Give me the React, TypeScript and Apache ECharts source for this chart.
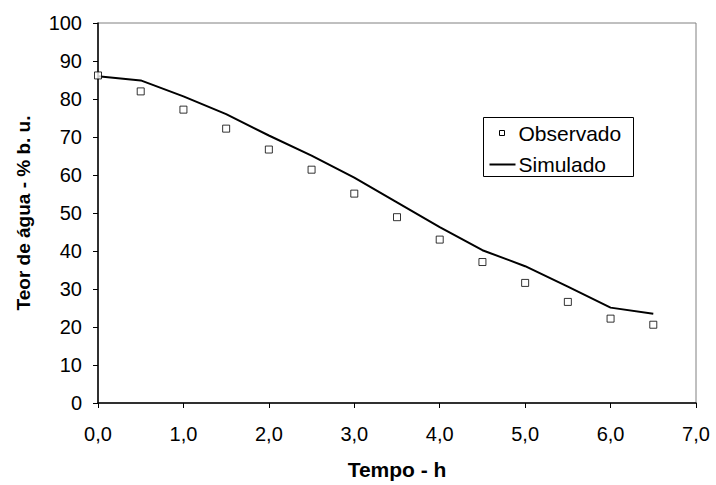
import React, { useEffect, useRef } from "react";
import * as echarts from "echarts";

const tempo = [0, 0.5, 1.0, 1.5, 2.0, 2.5, 3.0, 3.5, 4.0, 4.5, 5.0, 5.5, 6.0, 6.5];
const observado = [86.2, 82.0, 77.2, 72.2, 66.7, 61.4, 55.1, 48.9, 43.0, 37.1, 31.6, 26.6, 22.2, 20.6];
const simulado = [86.0, 84.9, 80.7, 76.0, 70.4, 65.1, 59.3, 52.8, 46.3, 40.2, 36.0, 30.6, 25.1, 23.5];
const legendLabels = ["Observado", "Simulado"];

const FONT = "'Liberation Sans', Arial, sans-serif";

export default function App() {
  const ref = useRef<HTMLDivElement>(null);
  useEffect(() => {
    if (!ref.current) return;
    const chart = echarts.init(ref.current, undefined, { renderer: "svg" });
    chart.setOption({
      animation: false,
      backgroundColor: "#ffffff",
      textStyle: { fontFamily: FONT },
      grid: {
        left: 98,
        right: 20,
        top: 23,
        bottom: 81,
        show: true,
        borderColor: "#808080",
        borderWidth: 1,
        containLabel: false,
      },
      xAxis: {
        type: "value",
        min: 0,
        max: 7,
        interval: 1,
        name: "Tempo - h",
        nameLocation: "middle",
        nameGap: 56,
        nameTextStyle: { fontFamily: FONT, fontSize: 21, fontWeight: "bold", color: "#000" },
        axisLine: { show: true, onZero: false, lineStyle: { color: "#000", width: 1.5 } },
        axisTick: { show: true, inside: false, length: 5, lineStyle: { color: "#000" } },
        axisLabel: {
          margin: 21,
          fontFamily: FONT,
          fontSize: 20,
          color: "#000",
          formatter: (v: number) => v.toFixed(1).replace(".", ","),
        },
        splitLine: { show: false },
      },
      yAxis: {
        type: "value",
        min: 0,
        max: 100,
        interval: 10,
        name: "Teor de água - % b. u.",
        nameLocation: "middle",
        nameGap: 65,
        nameTextStyle: { fontFamily: FONT, fontSize: 19, fontWeight: "bold", color: "#000" },
        axisLine: { show: true, onZero: false, lineStyle: { color: "#000", width: 1.5 } },
        axisTick: { show: true, inside: false, length: 5, lineStyle: { color: "#000" } },
        axisLabel: { margin: 16, fontFamily: FONT, fontSize: 20, color: "#000" },
        splitLine: { show: false },
      },
      series: [
        {
          name: legendLabels[1],
          type: "line",
          data: tempo.map((t, i) => [t, simulado[i]]),
          showSymbol: false,
          symbol: "none",
          lineStyle: { color: "#000", width: 2 },
          z: 2,
        },
        {
          name: legendLabels[0],
          type: "scatter",
          data: tempo.map((t, i) => [t, observado[i]]),
          symbol: "rect",
          symbolSize: 7,
          itemStyle: { color: "#fff", borderColor: "#000", borderWidth: 1 },
          z: 3,
        },
      ],
      graphic: [
        {
          type: "group",
          left: 483,
          top: 117,
          children: [
            { type: "rect", shape: { x: 0, y: 0, width: 150, height: 59 }, style: { fill: "#fff", stroke: "#000", lineWidth: 1 } },
            { type: "rect", shape: { x: 16, y: 13, width: 5, height: 5 }, style: { fill: "#fff", stroke: "#000", lineWidth: 1 } },
            { type: "text", x: 35, y: 16, style: { text: legendLabels[0], font: `21px ${FONT}`, fill: "#000", verticalAlign: "middle", textAlign: "left" } },
            { type: "line", shape: { x1: 6, y1: 47, x2: 32, y2: 47 }, style: { stroke: "#000", lineWidth: 2 } },
            { type: "text", x: 35, y: 47, style: { text: legendLabels[1], font: `21px ${FONT}`, fill: "#000", verticalAlign: "middle", textAlign: "left" } },
          ],
        },
      ],
    });
    return () => chart.dispose();
  }, []);
  return <div ref={ref} style={{ width: 716, height: 485, position: "absolute", left: 0, top: 0 }} />;
}
